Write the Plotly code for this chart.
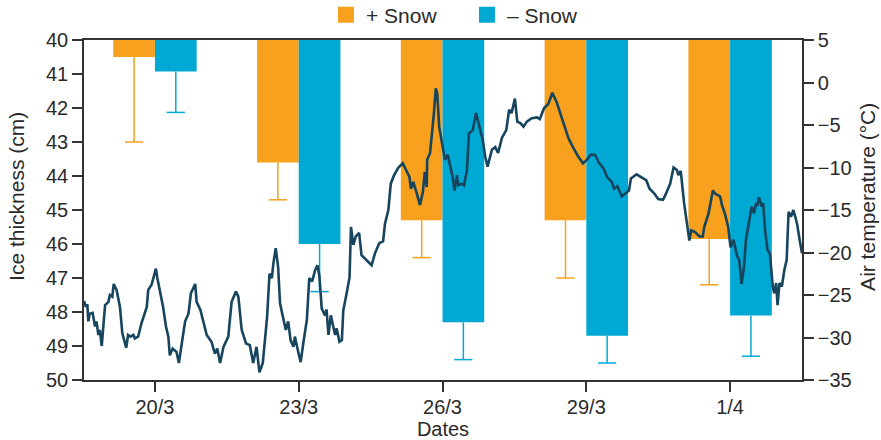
import plotly.graph_objects as go

# ---------------- data ----------------
date_pos = [20, 23, 26, 29, 32]                 # day number (March; 32 = 1 April)
date_labels = ["20/3", "23/3", "26/3", "29/3", "1/4"]

ice_plus_snow = [40.5, 43.6, 45.3, 45.3, 45.85]   # cm
ice_plus_err = [2.5, 1.1, 1.1, 1.7, 1.35]
ice_minus_snow = [40.93, 46.0, 48.3, 48.7, 48.1]  # cm
ice_minus_err = [1.2, 1.4, 1.1, 0.8, 1.2]

temp_day = [
    18.52, 18.56, 18.59, 18.61, 18.64, 18.70, 18.75, 18.78, 18.82, 18.85,
    18.89, 18.96, 19.03, 19.06, 19.11, 19.14, 19.20, 19.27, 19.32, 19.40,
    19.44, 19.49, 19.55, 19.58, 19.65, 19.72, 19.83, 19.86, 19.93, 19.98,
    20.02, 20.05, 20.10, 20.17, 20.23, 20.28, 20.31, 20.37, 20.45, 20.50,
    20.56, 20.63, 20.70, 20.75, 20.84, 20.87, 20.95, 21.02, 21.08, 21.18,
    21.25, 21.30, 21.36, 21.43, 21.53, 21.60, 21.69, 21.74, 21.81, 21.90,
    21.98, 22.05, 22.12, 22.18, 22.25, 22.34, 22.39, 22.44, 22.47, 22.52,
    22.57, 22.61, 22.68, 22.73, 22.78, 22.83, 22.89, 22.92, 22.99, 23.04,
    23.10, 23.17, 23.22, 23.28, 23.34, 23.39, 23.43, 23.48, 23.55, 23.58,
    23.62, 23.67, 23.72, 23.76, 23.79, 23.85, 23.90, 23.93, 24.00, 24.06,
    24.09, 24.14, 24.19, 24.26, 24.31, 24.38, 24.45, 24.52, 24.59, 24.68,
    24.76, 24.80, 24.87, 24.90, 24.92, 24.99, 25.08, 25.17, 25.24, 25.31,
    25.34, 25.39, 25.46, 25.53, 25.59, 25.63, 25.67, 25.68, 25.74, 25.79,
    25.82, 25.86, 25.89, 25.93, 25.99, 26.05, 26.11, 26.16, 26.21, 26.25,
    26.30, 26.33, 26.40, 26.45, 26.51, 26.55, 26.63, 26.70, 26.77, 26.84,
    26.89, 26.94, 27.03, 27.10, 27.16, 27.24, 27.33, 27.39, 27.44, 27.51,
    27.56, 27.63, 27.69, 27.76, 27.86, 27.97, 28.03, 28.12, 28.21, 28.29,
    28.38, 28.47, 28.52, 28.63, 28.73, 28.83, 28.93, 29.01, 29.09, 29.18,
    29.27, 29.36, 29.43, 29.53, 29.58, 29.65, 29.74, 29.82, 29.89, 29.93,
    30.05, 30.16, 30.25, 30.32, 30.41, 30.50, 30.60, 30.66, 30.75, 30.82,
    30.89, 30.92, 30.97, 31.04, 31.10, 31.15, 31.19, 31.27, 31.36, 31.43,
    31.46, 31.55, 31.60, 31.64, 31.69, 31.79, 31.83, 31.90, 31.96, 32.01,
    32.07, 32.14, 32.19, 32.24, 32.29, 32.33, 32.40, 32.45, 32.50, 32.54,
    32.57, 32.60, 32.66, 32.69, 32.73, 32.78, 32.83, 32.89, 32.92, 32.96,
    32.99, 33.03, 33.08, 33.13, 33.18, 33.22, 33.27, 33.32, 33.36, 33.40,
    33.45, 33.50,
]
temp_c = [
    -25.7, -26.4, -26.1, -28.1, -27.2, -27.1, -28.7, -28.1, -29.7, -29.1,
    -31.0, -26.2, -25.8, -25.0, -25.2, -23.7, -24.4, -26.4, -29.5, -31.2,
    -29.7, -29.9, -29.7, -30.1, -29.9, -28.3, -26.4, -24.4, -23.8, -22.9,
    -21.9, -23.0, -24.4, -26.4, -28.7, -29.9, -32.1, -31.3, -31.7, -33.0,
    -30.7, -28.1, -27.2, -24.8, -23.7, -25.8, -26.8, -28.3, -29.7, -30.5,
    -31.9, -31.3, -33.0, -31.1, -29.9, -25.8, -24.6, -25.2, -29.1, -30.7,
    -30.9, -33.0, -31.1, -34.1, -33.0, -27.6, -22.5, -23.0, -21.3, -19.5,
    -21.7, -26.0, -27.9, -29.1, -28.1, -30.3, -31.1, -29.9, -31.7, -32.9,
    -30.5, -27.9, -23.0, -23.4, -22.1, -21.5, -22.7, -26.6, -27.4, -26.7,
    -29.7, -27.4, -28.7, -29.7, -28.9, -30.5, -30.3, -26.8, -24.8, -22.9,
    -17.0, -19.1, -18.1, -17.7, -20.3, -20.7, -21.1, -21.5, -20.1, -18.9,
    -18.7, -16.6, -15.0, -13.4, -11.9, -10.9, -10.0, -9.5, -10.3, -11.1,
    -12.5, -11.7, -13.0, -14.4, -12.9, -10.5, -12.3, -9.1, -8.3, -5.8,
    -3.6, -0.7, -1.3, -5.2, -7.2, -9.1, -8.5, -9.9, -11.1, -12.7,
    -10.9, -12.1, -11.9, -12.1, -10.3, -6.0, -5.6, -3.6, -5.4, -6.8,
    -8.7, -9.9, -7.9, -7.6, -8.3, -6.5, -5.6, -3.2, -3.6, -1.9,
    -4.6, -4.8, -5.2, -4.6, -4.2, -4.1, -4.3, -3.0, -2.5, -1.2,
    -2.3, -3.8, -4.8, -6.6, -7.7, -8.7, -9.5, -9.1, -8.5, -8.5,
    -9.5, -10.1, -11.1, -11.7, -12.5, -12.2, -13.4, -13.0, -12.7, -11.3,
    -10.8, -11.2, -11.5, -12.5, -13.0, -13.7, -13.8, -13.1, -11.9, -10.0,
    -10.3, -10.9, -10.4, -14.2, -16.6, -18.6, -17.4, -17.6, -18.1, -18.1,
    -17.0, -15.4, -13.9, -12.7, -13.1, -13.4, -14.4, -15.6, -17.0, -19.4,
    -18.5, -20.3, -20.9, -23.7, -21.7, -18.5, -16.2, -14.6, -15.4, -14.2,
    -14.5, -13.5, -14.6, -14.2, -17.4, -19.7, -20.1, -24.0, -24.8, -23.6,
    -26.2, -23.6, -24.0, -22.1, -20.9, -15.2, -15.8, -15.0, -15.8, -16.7,
    -18.5, -20.1,
]

left_title = "Ice thickness (cm)"
right_title = "Air temperature (\u00b0C)"
x_title = "Dates"

# ---------------- style ----------------
ORANGE = "#F7A11F"
BLUE = "#00A9D4"
LINE = "#16455D"
TXT = "#2a2a2a"
AX = "#333333"
FONT = "Liberation Sans, Arial, sans-serif"

fig = go.Figure()

n = len(date_pos)
ice_top = [40] * n
BAR_W = 0.87

for vals, errs, color, off in [
    (ice_plus_snow, ice_plus_err, ORANGE, -BAR_W),
    (ice_minus_snow, ice_minus_err, BLUE, 0.0),
]:
    fig.add_trace(go.Bar(
        x=date_pos, y=[v - b for v, b in zip(vals, ice_top)], base=ice_top,
        width=BAR_W, offset=off, marker=dict(color=color, line=dict(width=0)),
        showlegend=False, yaxis="y", hoverinfo="skip",
    ))
    # one-sided error bar: whisker from bar end to end+err, cap at end+err
    centers = [d + off + BAR_W / 2 for d in date_pos]
    fig.add_trace(go.Scatter(
        x=centers, y=[v + e for v, e in zip(vals, errs)], mode="markers",
        marker=dict(symbol="line-ew", size=13, color=color,
                    line=dict(color=color, width=1.5)),
        error_y=dict(type="data", symmetric=False, array=[0] * n, arrayminus=errs,
                     color=color, thickness=1.5, width=0),
        showlegend=False, yaxis="y", hoverinfo="skip",
    ))

fig.add_trace(go.Scatter(
    x=temp_day, y=temp_c, mode="lines", line=dict(color=LINE, width=2.6),
    showlegend=False, yaxis="y2",
))
# legend entries
fig.add_trace(go.Scatter(x=[None], y=[None], mode="markers", name="+ Snow",
                         marker=dict(symbol="square", size=16, color=ORANGE)))
fig.add_trace(go.Scatter(x=[None], y=[None], mode="markers", name="\u2013 Snow",
                         marker=dict(symbol="square", size=16, color=BLUE)))

axis_common = dict(
    showgrid=False, zeroline=False, showline=True, linecolor=AX, linewidth=1.5,
    ticks="outside", ticklen=10, tickwidth=1.5, tickcolor=AX,
    tickfont=dict(family=FONT, size=20, color=TXT), automargin=False,
)

fig.update_layout(
    width=881, height=440,
    margin=dict(l=84, r=79, t=40, b=60, autoexpand=False),
    paper_bgcolor="white", plot_bgcolor="white",
    barmode="overlay",
    font=dict(family=FONT, color=TXT),
    xaxis=dict(
        **axis_common, range=[18.52, 33.5], tickvals=date_pos, ticktext=date_labels,
        mirror=True, ticklabelstandoff=-2,
        title=dict(text=x_title, font=dict(family=FONT, size=20, color=TXT), standoff=0),
    ),
    yaxis=dict(
        **axis_common, range=[50, 40], tickmode="linear", tick0=40, dtick=1,
    ),
    yaxis2=dict(
        **axis_common, range=[-35, 5], tickmode="linear", tick0=-35, dtick=5,
        overlaying="y", side="right",
    ),
    legend=dict(
        orientation="h", x=0.337, xanchor="left", y=1.0735, yanchor="middle",
        font=dict(family=FONT, size=21, color=TXT), entrywidth=96,
        bgcolor="rgba(0,0,0,0)", borderwidth=0,
    ),
    annotations=[
        dict(text=left_title, textangle=-90, xref="paper", yref="paper",
             x=-0.094, y=0.54, xanchor="center", yanchor="middle", showarrow=False,
             font=dict(family=FONT, size=21, color=TXT)),
        dict(text=right_title, textangle=-90, xref="paper", yref="paper",
             x=1.0912, y=0.54, xanchor="center", yanchor="middle", showarrow=False,
             font=dict(family=FONT, size=21, color=TXT)),
    ],
)

fig.write_html("out.html")
